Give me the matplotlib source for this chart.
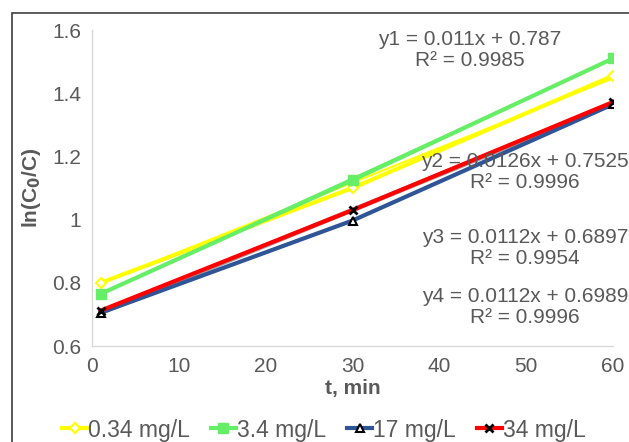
import matplotlib
matplotlib.use("Agg")
import matplotlib.pyplot as plt
import numpy as np
from matplotlib.patches import Rectangle

plt.rcParams['font.family'] = ['Liberation Sans', 'DejaVu Sans']

t = [1, 30, 60]
y_034 = [0.80, 1.10, 1.455]
y_34 = [0.765, 1.125, 1.51]
y_17 = [0.705, 0.997, 1.365]
y_340 = [0.712, 1.03, 1.372]
labels = ['0.34 mg/L', '3.4 mg/L', '17 mg/L', '34 mg/L']
eqs = ['y1 = 0.011x + 0.787\nR² = 0.9985',
       'y2 = 0.0126x + 0.7525\nR² = 0.9996',
       'y3 = 0.0112x + 0.6897\nR² = 0.9954',
       'y4 = 0.0112x + 0.6989\nR² = 0.9996']
fits = [(0.011, 0.787), (0.0126, 0.7525), (0.0112, 0.6897), (0.0112, 0.6989)]

W, H = 629, 442
fig = plt.figure(figsize=(W / 100, H / 100), dpi=100)
ax = fig.add_axes([92 / W, 1 - 346 / H, (613 - 92) / W, (346 - 30) / H])

# chart frame (extends past right/bottom edges)
fig.patches.append(Rectangle((12 / W, -0.1), 1.2, 1 - 13 / H + 0.1,
                             transform=fig.transFigure, fill=False,
                             edgecolor='#404040', linewidth=1.2))

txt = '#595959'
series = [
    (y_034, '#FFFF00', dict(marker='D', markersize=5, markerfacecolor='white',
                            markeredgecolor='#FFFF00', markeredgewidth=1.5)),
    (y_34, '#66EE66', dict(marker='s', markersize=7, markerfacecolor='#66EE66',
                           markeredgecolor='#66EE66')),
    (y_17, '#2F5597', dict(marker='^', markersize=6, markerfacecolor='white',
                           markeredgecolor='black', markeredgewidth=1.5)),
    (y_340, '#FF0000', dict(marker='x', markersize=6, markeredgecolor='black',
                            markeredgewidth=2)),
]
trend_cols = ['#FFFF00', '#66EE66', '#A0A0A0', '#A0A0A0']

xs = np.array([1, 60])
for (m, b), c in zip(fits, trend_cols):
    ax.plot(xs, m * xs + b, color=c, linewidth=1.5, zorder=2)

handles = []
for (ys, col, mk), lab in zip(series, labels):
    h, = ax.plot(t, ys, color=col, linewidth=3, label=lab, zorder=3, **mk)
    handles.append(h)

ax.set_xlim(0, 60)
ax.set_ylim(0.6, 1.6)
ax.set_xticks(range(0, 61, 10))
ax.set_yticks([0.6, 0.8, 1.0, 1.2, 1.4, 1.6])
ax.set_yticklabels(['0.6', '0.8', '1', '1.2', '1.4', '1.6'])
ax.tick_params(length=0, labelsize=15, colors=txt, pad=8)
for s in ['top', 'right']:
    ax.spines[s].set_visible(False)
for s in ['left', 'bottom']:
    ax.spines[s].set_color('#D9D9D9')
    ax.spines[s].set_linewidth(1)

ax.set_xlabel('t, min', fontsize=15, fontweight='bold', color=txt, labelpad=2)
ax.set_ylabel('ln(C$_\\mathbf{0}$/C)', fontsize=15, fontweight='bold', color=txt, labelpad=6)

eq_pos = [(470, 50), (525, 172), (525, 248), (525, 307)]
for e, (px, py) in zip(eqs, eq_pos):
    fig.text(px / W, 1 - py / H, e, fontsize=15, color=txt, ha='center',
             va='center', linespacing=1.1)

fig.legend(handles=handles, loc='center', bbox_to_anchor=(0.515, 1 - 430 / H),
           ncol=4, frameon=False, fontsize=16.5, handlelength=1.1,
           handletextpad=0.05, columnspacing=0.9, labelcolor=txt)

fig.savefig('out.png', dpi=100)
